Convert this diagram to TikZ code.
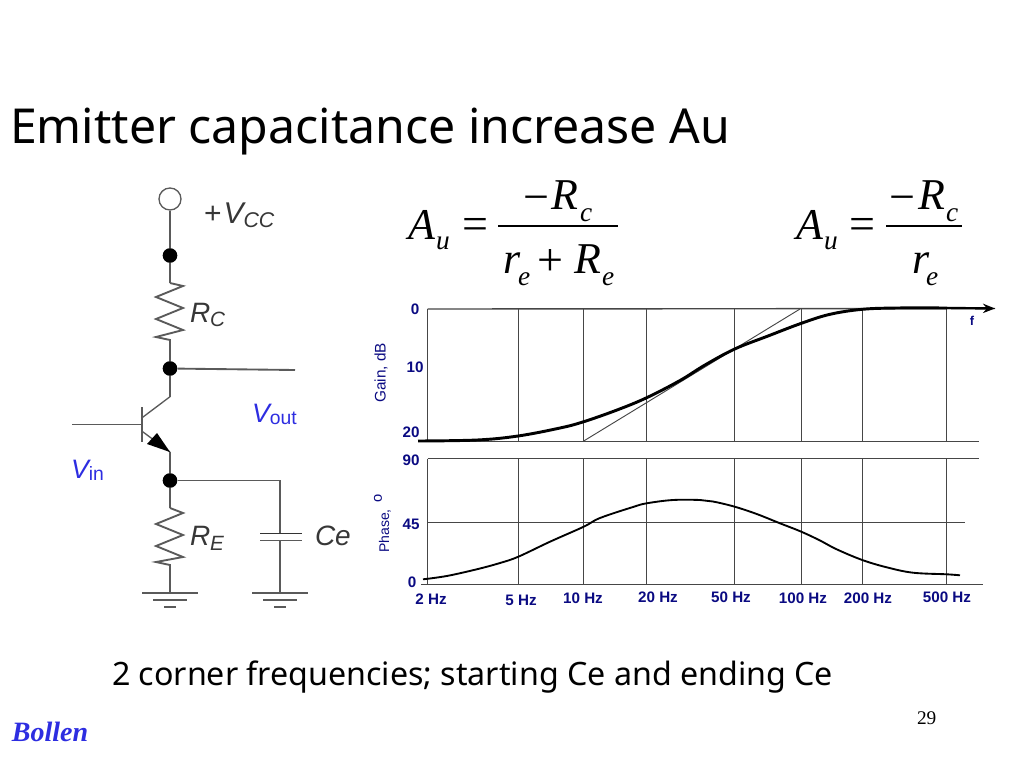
\documentclass[tikz,border=0pt]{standalone}
\usepackage{fontspec}
\setmainfont{Noto Sans}
\newfontfamily\arialf{Liberation Sans}
\newfontfamily\timesf{Liberation Serif}
\usetikzlibrary{arrows.meta}
\definecolor{wire}{RGB}{90,90,90}
\definecolor{gridc}{RGB}{70,70,70}
\definecolor{navyl}{RGB}{10,10,130}
\definecolor{bluel}{RGB}{45,45,225}
\definecolor{inkl}{RGB}{55,55,55}
\newcommand{\fsz}[1]{\fontsize{#1}{#1}\selectfont}
\newcommand{\subdn}[3]{\raisebox{-#1pt}{\fsz{#2}#3}}
\tikzset{
  x=0.75pt,y=-0.75pt,
  txt/.style={inner sep=0,outer sep=0,anchor=base west},
  ctxt/.style={inner sep=0,outer sep=0,anchor=base},
  title/.style={txt,font=\fsz{36.15}},
  caption/.style={txt,font=\fsz{24.15}},
  cir/.style={txt,font=\arialf\fsz{21},text=inkl},
  volt/.style={txt,font=\arialf\fsz{20},text=bluel},
  tick/.style={ctxt,font=\arialf\bfseries\fsz{11.4},text=navyl},
  mth/.style={txt,font=\timesf\itshape\fsz{33}},
  mthup/.style={txt,font=\timesf\fsz{34.5}},
  msub/.style={txt,font=\timesf\itshape\fsz{20.5}},
  wireline/.style={draw=wire,line width=1.4pt},
  thinwire/.style={draw=wire,line width=1pt},
  junction/.style={circle,fill=black,inner sep=0,minimum size=11pt},
  terminal/.style={circle,draw=wire,fill=white,line width=1pt,inner sep=0,minimum size=16.5pt},
  gridline/.style={draw=gridc,line width=1.05pt},
  gainline/.style={draw=black,line width=2.2pt,line join=round},
  phaseline/.style={draw=black,line width=1.4pt,line join=round},
  fracbar/.style={draw=black,line width=1pt},
}
\begin{document}
\begin{tikzpicture}
\useasboundingbox[fill=white] (0,0) rectangle (1024,768);

% title etc.
\node[title] (ttl) at (10,143) {Emitter capacitance increase Au};
\node[caption] (cap) at (112,685) {2 corner frequencies; starting Ce and ending Ce};
\node[txt,font=\timesf\fsz{14.5}] (pg) at (917,724.5) {29};
\node[txt,font=\timesf\bfseries\itshape\fsz{21},text=bluel] (bol) at (12,741) {Bollen};

% circuit
\node[terminal] (vcc) at (170,199) {};
\node[junction] (j1) at (170,255.5) {};
\coordinate (rct) at (170,283);
\coordinate (rcb) at (170,340);
\node[junction] (j2) at (170,368.5) {};
\coordinate (out) at (295,370);
\coordinate (col) at (170,396.7);
\coordinate (colb) at (141.7,418);
\coordinate (bt) at (141.7,407);
\coordinate (bb) at (141.7,441.7);
\coordinate (vin) at (72,424.5);
\coordinate (bm) at (141.7,424.5);
\coordinate (emb) at (141.7,431);
\coordinate (em) at (170,452);
\node[junction] (j3) at (170,480.5) {};
\coordinate (ret) at (170,508);
\coordinate (reb) at (170,565);
\coordinate (g1) at (170,593);
\coordinate (ccor) at (280,480.5);
\coordinate (c1) at (280,533.5);
\coordinate (c2) at (280,540.5);
\coordinate (g2) at (280,593);

\draw[wireline] (vcc) -- (j1) -- (rct);
\draw[wireline] (rct) -- (183,286) -- (156,297) -- (183,308) -- (156,319) -- (183,330) -- (156,337) -- (rcb) -- (j2);
\draw[wireline] (j2) -- (out);
\draw[wireline] (j2) -- (col);
\draw[thinwire] (col) -- (colb);
\draw[wireline] (bt) -- (bb);
\draw[wireline] (vin) -- (bm);
\draw[thinwire] (emb) -- (em);
\fill[black] (em) -- (147,444) -- (157,433) -- cycle;
\draw[wireline] (em) -- (j3);
\draw[wireline] (j3) -- (ret);
\draw[wireline] (ret) -- (183,513) -- (156,524) -- (183,535) -- (156,546) -- (183,557) -- (156,562) -- (reb) -- (g1);
\draw[wireline] (j3) -- (ccor) -- (c1);
\draw[draw=black!80,line width=1pt] (260,533.5) -- (302,533.5);
\draw[wireline] (260,540.5) -- (302,540.5);
\draw[wireline] (c2) -- (g2);
\foreach \gx/\gn in {170/g1,280/g2}{
  \draw[wireline] (\gx-28,593) -- (\gx+28,593);
  \draw[wireline] (\gx-17,600) -- (\gx+17,600);
  \draw[wireline] (\gx-6,607) -- (\gx+6,607);
}
\node[cir,font=\arialf\fsz{22.5}] (lvcc) at (204,223) {+\kern1.5pt{\itshape V}\subdn{3}{16}{\itshape CC}};
\node[cir] (lrc) at (190,322) {{\itshape R}\subdn{3}{15.5}{\itshape C}};
\node[cir] (lre) at (190,545) {{\itshape R}\subdn{4}{15.5}{\itshape E}};
\node[cir] (lce) at (315,545) {{\itshape Ce}};
\node[volt] (lvo) at (252,422) {{\itshape V}\subdn{2}{14.5}{out}};
\node[volt] (lvi) at (71,478) {{\itshape V}\subdn{2}{14.5}{in}};

% formulas
\node[mth] (a1) at (408,239) {A};
\node[msub] (u1) at (436,249) {u};
\node[mthup] (e1) at (462,239) {=};
\coordinate (f1l) at (498,226);
\coordinate (f1r) at (618,226);
\draw[fracbar] (f1l) -- (f1r);
\node[mthup] (m1) at (523,212) {−};
\node[mth] (r1) at (551,209) {R};
\node[msub] (c1t) at (580,221) {c};
\node[mth] (r2) at (503,273) {r};
\node[msub] (e2) at (518,285) {e};
\node[mthup] (p1) at (537,275) {+};
\node[mth] (r3) at (574,273) {R};
\node[msub] (e3) at (602,285) {e};
\node[mth] (a2) at (796,239) {A};
\node[msub] (u2) at (824,249) {u};
\node[mthup] (e4) at (849,239) {=};
\coordinate (f2l) at (886,226);
\coordinate (f2r) at (962,226);
\draw[fracbar] (f2l) -- (f2r);
\node[mthup] (m2) at (889,212) {−};
\node[mth] (r4) at (918,209) {R};
\node[msub] (c2t) at (946,221) {c};
\node[mth] (r5) at (912,273) {r};
\node[msub] (e5) at (926,285) {e};

% graph grids
\foreach \vx in {427.5,518.5,583.5,646.5,734.5,801.5,862.5,946.5}{
  \draw[gridline] (\vx,309) -- (\vx,441);
  \draw[gridline] (\vx,458.5) -- (\vx,584.5);
}
\coordinate (gl) at (427.5,309);
\coordinate (gr) at (995,308.5);
\draw[gridline] (gl) -- (gr);
\draw[gridline] (418,441.5) -- (979,441.5);
\draw[gridline] (427.5,458.5) -- (979,458.5);
\draw[gridline] (427.5,522.5) -- (965,522.5);
\draw[gridline] (421,584.5) -- (983,584.5);
\coordinate (as1) at (583.7,441);
\coordinate (as2) at (800,309);
\draw[draw=gridc,line width=0.7pt] (as1) -- (as2);

\draw[gainline] plot[smooth,tension=0.6] coordinates {(418,441) (477,440) (518,436) (560,428) (583.7,421.7) (617,410) (646.7,397.7) (680,380.5) (705,365) (734.7,349) (768,336) (801.3,323.3) (830,314.3) (862.3,309.3) (897,308) (947,308)};
\draw[draw=black,line width=1.8pt,-{Stealth[length=9pt,width=7pt]}] (947,308) -- (gr);
\draw[phaseline] plot[smooth,tension=0.6] coordinates {(423,579.3) (446.7,576) (476.7,569.3) (500,563) (518.3,556.7) (550,541.7) (583.7,526.7) (600,518) (633,507) (646.7,503.3) (673,500) (700,500) (713,501.5) (734.7,506.7) (756.7,514) (780,523.3) (801.3,531.7) (820,540.5) (836.7,549.3) (862.3,560) (886.7,567.3) (913,572.7) (946.7,574.3) (960,575.3)};

% graph labels
\node[tick] (t0) at (415,314) {0};
\node[tick] (t10) at (415,372) {10};
\node[tick] (t20) at (411,437) {20};
\node[tick] (t90) at (411,465) {90};
\node[tick] (t45) at (411,529) {45};
\node[tick] (t00) at (412,587) {0};
\node[tick,font=\arialf\bfseries\fsz{9.6}] (f) at (972,325) {f};
\node[tick] (h2) at (431,604) {2 Hz};
\node[tick] (h5) at (521,605) {5 Hz};
\node[tick] (h10) at (583,603) {10 Hz};
\node[tick] (h20) at (658,602) {20 Hz};
\node[tick] (h50) at (731,602) {50 Hz};
\node[tick] (h100) at (803,603) {100 Hz};
\node[tick] (h200) at (868,603) {200 Hz};
\node[tick] (h500) at (947,602) {500 Hz};
\node[inner sep=0,rotate=90,font=\arialf\fsz{11.5},text=navyl] (yg) at (381,373) {Gain, dB};
\node[inner sep=0,rotate=90,font=\arialf\fsz{10.5},text=navyl] (yp) at (385,531) {Phase,};
\node[inner sep=0,rotate=90,font=\arialf\fsz{11},text=navyl] (yo) at (378,498) {o};
\end{tikzpicture}
\end{document}
